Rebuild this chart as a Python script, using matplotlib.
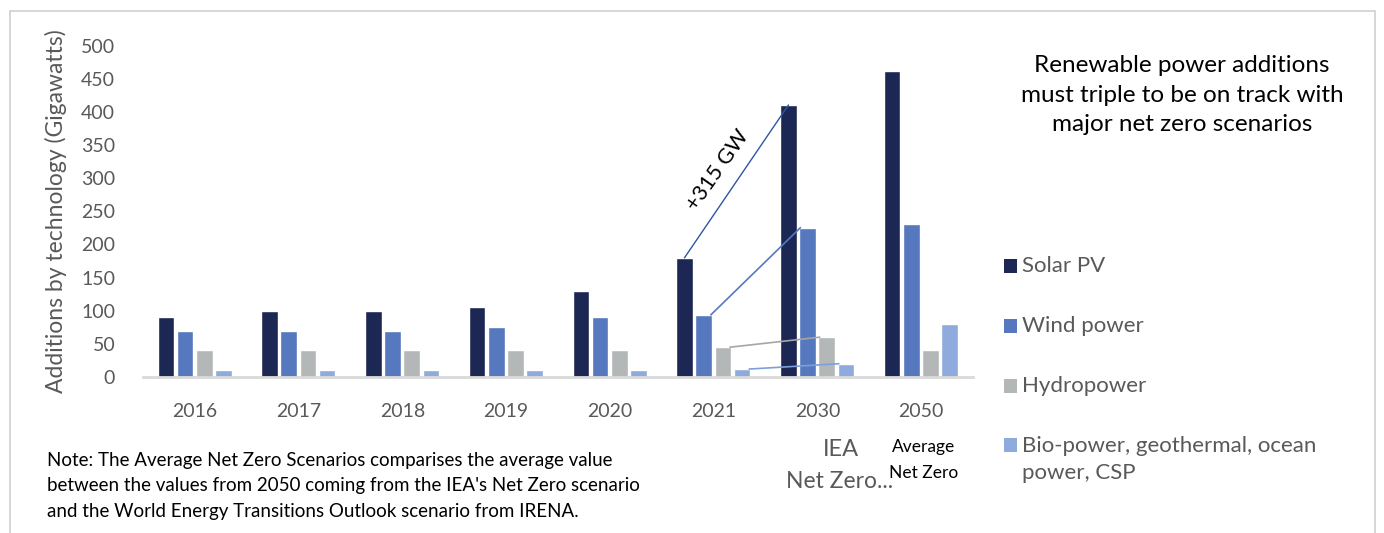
import matplotlib
matplotlib.use("Agg")
import matplotlib.pyplot as plt
from matplotlib.patches import Rectangle
import numpy as np

plt.rcParams['font.family'] = ['Lato', 'DejaVu Sans']

# ---- data ----
categories = ["2016", "2017", "2018", "2019", "2020", "2021", "2030", "2050"]
solar_pv = [90, 100, 100, 105, 130, 180, 410, 462]
wind_power = [70, 70, 70, 75, 90, 94, 225, 231]
hydropower = [40, 40, 40, 40, 40, 45, 60, 40]
bio_other = [10, 10, 10, 10, 10, 12, 20, 80]
series_names = ["Solar PV", "Wind power", "Hydropower",
                "Bio-power, geothermal, ocean\npower, CSP"]
yticks = [0, 50, 100, 150, 200, 250, 300, 350, 400, 450, 500]

colors = ["#1C2754", "#5578BF", "#B4B7B8", "#8FAADC"]
line_colors = ["#2F55A6", "#5578BF", "#A6A6A6", "#7F9FD8"]

W, H = 1384, 533
fig = plt.figure(figsize=(W / 100, H / 100), dpi=100)
fig.patch.set_facecolor("white")

# outer frame
fig.add_artist(Rectangle((10 / W, -0.1), (1375 - 10) / W, 1.1 - 11 / H,
                         transform=fig.transFigure, fill=False,
                         edgecolor="#D0D0D0", linewidth=1.2))

ax = fig.add_axes([143 / W, (H - 377) / H, 830 / W, (377 - 45.5) / H])
x = np.arange(len(categories))
offsets = [-0.28, -0.095, 0.09, 0.275]
bw = 0.16
all_series = [solar_pv, wind_power, hydropower, bio_other]
for s, off, c, name in zip(all_series, offsets, colors, series_names):
    ax.bar(x + off, s, width=bw, color=c, edgecolor="white", linewidth=1.0,
           label=name, zorder=2)

ax.set_xlim(-0.5, len(categories) - 0.5)
ax.set_ylim(0, 500)
ax.set_yticks(yticks)
ax.set_yticklabels([str(v) for v in yticks])
ax.set_xticks(x)
ax.set_xticklabels(categories)
ax.tick_params(axis="both", length=0, colors="#595959", labelsize=14)
ax.tick_params(axis="y", pad=20)
ax.tick_params(axis="x", pad=19)
for sp in ["top", "right", "left"]:
    ax.spines[sp].set_visible(False)
ax.spines["bottom"].set_color("#D9D9D9")
ax.spines["bottom"].set_linewidth(2)
ax.set_ylabel("Additions by technology (Gigawatts)", color="#595959",
              fontsize=16.5, labelpad=10)

# connector lines 2021 -> 2030
i21, i30 = categories.index("2021"), categories.index("2030")
half = bw / 2 - 0.01
ax.plot([i21 + offsets[0], i30 + offsets[0]], [solar_pv[i21], solar_pv[i30]],
        color=line_colors[0], lw=1.0, zorder=3)
for k, s in zip([1, 2, 3], [wind_power, hydropower, bio_other]):
    ax.plot([i21 + offsets[k] + half, i30 + offsets[k] - half],
            [s[i21], s[i30]], color=line_colors[k], lw=1.2, zorder=3)

ax.text(i21 + 0.04, 311, "+315 GW", rotation=55, ha="center", va="center",
        fontsize=15.5, color="black")

# labels under 2030 / 2050
fig.text(841 / W, 1 - 450 / H, "IEA", ha="center", va="center",
         fontsize=17, color="#595959")
fig.text(840 / W, 1 - 481 / H, "Net Zero...", ha="center", va="center",
         fontsize=16.5, color="#595959")
fig.text(924 / W, 1 - 447 / H, "Average", ha="center", va="center",
         fontsize=12.5, color="black")
fig.text(924 / W, 1 - 473 / H, "Net Zero", ha="center", va="center",
         fontsize=12.5, color="black")

# title
fig.text(1182 / W, 1 - 95 / H,
         "Renewable power additions\nmust triple to be on track with\nmajor net zero scenarios",
         ha="center", va="center", fontsize=17.5, color="black", linespacing=1.5)

# note
fig.text(47 / W, 1 - 486 / H,
         "Note: The Average Net Zero Scenarios comparises the average value\n"
         "between the values from 2050 coming from the IEA's Net Zero scenario\n"
         "and the World Energy Transitions Outlook scenario from IRENA.",
         ha="left", va="center", fontsize=13.5, color="black", linespacing=1.6)

# legend (manual layout)
leg_y = [266, 326, 386, 445]
for yy, c, name in zip(leg_y, colors, series_names):
    fig.add_artist(Rectangle((1004 / W, 1 - (yy + 7) / H), 13 / W, 14 / H,
                             transform=fig.transFigure, facecolor=c,
                             edgecolor="none"))
    if "\n" in name:
        fig.text(1022 / W, 1 - (yy - 9) / H, name, ha="left", va="top",
                 fontsize=16, color="#595959", linespacing=1.45)
    else:
        fig.text(1022 / W, 1 - yy / H, name, ha="left", va="center",
                 fontsize=16, color="#595959")

fig.savefig("out.png", dpi=100)
